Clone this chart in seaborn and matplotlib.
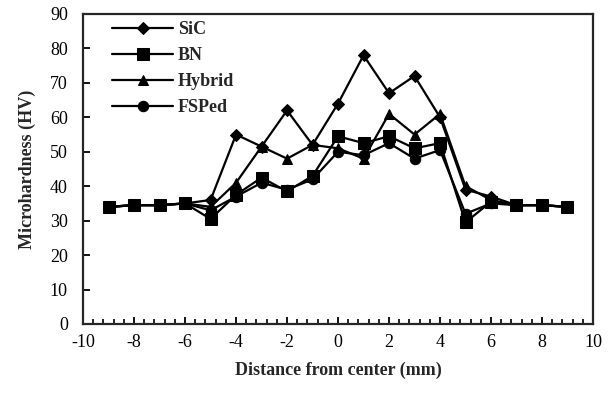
import matplotlib
matplotlib.use("Agg")
import matplotlib.pyplot as plt
import seaborn as sns
import pandas as pd
from matplotlib.ticker import MultipleLocator

positions = [-9, -8, -7, -6, -5, -4, -3, -2, -1, 0, 1, 2, 3, 4, 5, 6, 7, 8, 9]
sic    = [34, 34.5, 34.5, 35, 36, 55, 51.5, 62, 52, 64, 78, 67, 72, 60, 39, 37, 34.5, 34.5, 34]
bn     = [34, 34.5, 34.5, 35, 30.5, 37.5, 42.5, 38.5, 43, 54.5, 52.5, 54.5, 51, 52.5, 29.5, 35.5, 34.5, 34.5, 34]
hybrid = [34, 34.5, 34.5, 35, 34, 41, 51.5, 48, 52, 51, 48, 61, 55, 61, 40, 36, 34.5, 34.5, 34]
fsped  = [34, 34.5, 34.5, 35, 33, 37, 41, 39, 42, 50, 49, 52.5, 48, 50.5, 32, 35, 34.5, 34.5, 34]
series_names = ["SiC", "BN", "Hybrid", "FSPed"]

df = pd.concat([
    pd.DataFrame({"x": positions, "y": vals, "series": name})
    for name, vals in zip(series_names, [sic, bn, hybrid, fsped])
], ignore_index=True)

sns.set_style("ticks")
plt.rcParams["font.family"] = ["Liberation Serif", "DejaVu Serif"]
plt.rcParams["axes.unicode_minus"] = False

fig = plt.figure(figsize=(6.11, 3.94), dpi=100)
ax = fig.add_axes([0.136, 0.1777, 0.8345, 0.7868])

markers = {"SiC": "D", "BN": "s", "Hybrid": "^", "FSPed": "o"}
palette = {n: "black" for n in series_names}
sns.lineplot(data=df, x="x", y="y", hue="series", style="series",
             markers=markers, dashes=False, palette=palette,
             hue_order=series_names, style_order=series_names,
             linewidth=1.6, ax=ax, legend=True)

sizes = {"SiC": 6, "BN": 9, "Hybrid": 7.5, "FSPed": 7.5}
for line, name in zip(ax.get_lines()[:4], series_names):
    line.set_markersize(sizes[name])
    line.set_markeredgecolor("black")
    line.set_markerfacecolor("black")

ax.set_xlim(-10, 10)
ax.set_ylim(0, 90)
ax.xaxis.set_major_locator(MultipleLocator(2))
ax.xaxis.set_minor_locator(MultipleLocator(0.4))
ax.yaxis.set_major_locator(MultipleLocator(10))
ax.tick_params(axis="both", which="both", direction="in", right=False, top=False,
               labelsize=13, colors="black", width=1.3)
ax.tick_params(axis="y", which="major", length=5, pad=11)
ax.tick_params(axis="x", which="major", length=5, pad=7)
ax.tick_params(axis="x", which="minor", length=3.5, width=1.2, bottom=True)
for sp in ax.spines.values():
    sp.set_linewidth(1.6)
    sp.set_visible(True)

ax.set_xlabel("Distance from center (mm)", fontsize=13, fontweight="bold", labelpad=8)
ax.set_ylabel("Microhardness (HV)", fontsize=13, fontweight="bold", labelpad=10)

handles, labels = ax.get_legend_handles_labels()
for h, name in zip(handles, labels):
    h.set_markersize(sizes[name])
    h.set_markerfacecolor("black")
    h.set_markeredgecolor("black")
leg = ax.legend(handles, labels, loc="upper left", bbox_to_anchor=(0.025, 1.03),
                frameon=False, handlelength=3.4, handletextpad=0.25,
                labelspacing=0.5, prop={"weight": "bold", "size": 13})

fig.savefig("out.png", dpi=100)
